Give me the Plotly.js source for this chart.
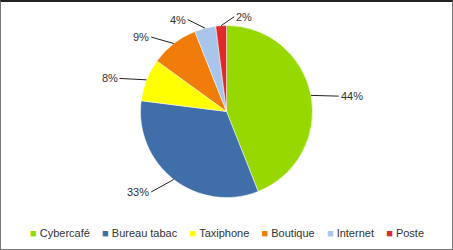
<!DOCTYPE html>
<html>
<head>
<meta charset="utf-8">
<script src="https://cdn.plot.ly/plotly-3.0.1.min.js"></script>
<style>
html,body{margin:0;padding:0;background:#fff;}
#wrap{position:relative;width:453px;height:250px;box-sizing:border-box;border:1px solid #777;border-top:2px solid #222;overflow:hidden;}
#chart{position:absolute;left:-1px;top:-2px;width:453px;height:250px;}
</style>
</head>
<body>
<div id="wrap"><div id="chart"></div></div>
<script>
const categories = ["Cybercafé", "Bureau tabac", "Taxiphone", "Boutique", "Internet", "Poste"];
const values = [44, 33, 8, 9, 4, 2];
const colors = ["#96d800", "#3f6ea8", "#ffff00", "#f07d0a", "#a9c6ea", "#e02a2a"];

const W = 453, H = 250;
const cx = 226.5, cy = 111.5, R = 86;
const FONT = "Liberation Sans, Arial, sans-serif";

const total = values.reduce((a, b) => a + b, 0);
let cum = 0;
const annotations = values.map((v, i) => {
  const mid = (cum + v / 2) / total * 2 * Math.PI;
  cum += v;
  const dx = Math.sin(mid), dy = -Math.cos(mid);
  const ex = cx + R * dx, ey = cy + R * dy;
  const right = dx > -0.1;
  return {
    xref: "paper", yref: "paper",
    x: ex / W, y: 1 - ey / H,
    ax: dx * 14 + (right ? 14 : -14), ay: dy * 12 + 3,
    text: Math.round(v / total * 100) + "%",
    showarrow: true, arrowhead: 0, arrowwidth: 1, arrowcolor: "#222",
    xanchor: right ? "left" : "right", yanchor: "middle",
    font: {family: FONT, size: 11, color: "#333"}
  };
});

// compact legend row built from the categories and colours
const legendText = categories.map((c, i) =>
  `<span style="color:${colors[i]}">■</span>\u00a0${c}`).join("\u00a0\u00a0\u00a0\u00a0");
annotations.push({
  xref: "paper", yref: "paper", x: 0.5, y: 1 - 233 / H,
  xanchor: "center", yanchor: "middle", showarrow: false,
  text: legendText,
  font: {family: FONT, size: 11, color: "#333"}
});

const trace = {
  type: "pie",
  labels: categories,
  values: values,
  sort: false,
  direction: "clockwise",
  rotation: 0,
  textinfo: "none",
  hoverinfo: "label+percent",
  showlegend: false,
  marker: {colors: colors, line: {color: "#ffffff", width: 0.5}},
  domain: {x: [(cx - R) / W, (cx + R) / W], y: [1 - (cy + R) / H, 1 - (cy - R) / H]}
};

const layout = {
  width: W, height: H,
  margin: {l: 0, r: 0, t: 0, b: 0},
  paper_bgcolor: "rgba(0,0,0,0)",
  showlegend: false,
  annotations: annotations
};

Plotly.newPlot("chart", [trace], layout, {displayModeBar: false, staticPlot: true});
</script>
</body>
</html>
